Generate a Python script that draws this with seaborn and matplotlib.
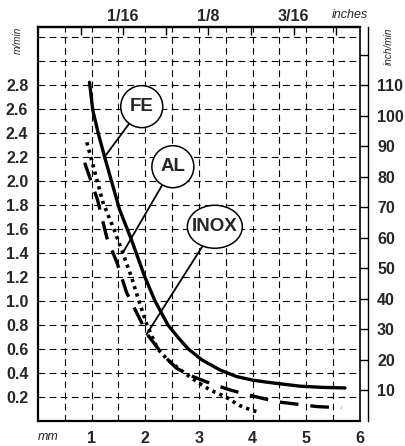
import numpy as np
import pandas as pd
import matplotlib
matplotlib.use("Agg")
import matplotlib.pyplot as plt
from matplotlib.patches import Ellipse
import seaborn as sns

# Wire feed speed vs wire diameter
fe_mm = [0.96, 1.02, 1.12, 1.24, 1.52, 1.74, 1.99, 2.18, 2.42, 2.62, 2.80, 3.05, 3.39, 3.70, 4.00, 4.32, 4.88, 5.30, 5.72]
fe_speed = [2.82, 2.59, 2.40, 2.20, 1.76, 1.51, 1.20, 1.00, 0.80, 0.69, 0.60, 0.51, 0.425, 0.37, 0.34, 0.32, 0.29, 0.28, 0.275]

al_mm = [0.91, 1.06, 1.21, 1.42, 1.58, 1.74, 1.88, 2.03, 2.23, 2.44, 2.73, 2.95, 3.20, 3.50, 3.75, 3.98, 4.10]
al_speed = [2.32, 2.07, 1.82, 1.59, 1.40, 1.20, 1.00, 0.80, 0.60, 0.50, 0.40, 0.33, 0.26, 0.20, 0.13, 0.09, 0.075]

inox_mm = [0.87, 1.11, 1.28, 1.47, 1.65, 1.93, 2.02, 2.33, 2.58, 2.83, 3.23, 3.57, 3.81, 4.17, 4.45, 5.20, 5.65]
inox_speed = [2.15, 1.84, 1.53, 1.32, 1.07, 0.82, 0.73, 0.55, 0.44, 0.38, 0.31, 0.26, 0.23, 0.19, 0.16, 0.12, 0.11]

mm_labels = ["1", "2", "3", "4", "5", "6"]
speed_labels = ["0.2", "0.4", "0.6", "0.8", "1.0", "1.2", "1.4", "1.6", "1.8", "2.0", "2.2", "2.4", "2.6", "2.8"]
inch_min_labels = ["10", "20", "30", "40", "50", "60", "70", "80", "90", "100", "110"]
inch_fracs = ["", "1/16", "", "1/8", "", "3/16", ""]

df = pd.concat([
    pd.DataFrame({"mm": fe_mm, "speed": fe_speed, "metal": "FE"}),
    pd.DataFrame({"mm": al_mm, "speed": al_speed, "metal": "AL"}),
    pd.DataFrame({"mm": inox_mm, "speed": inox_speed, "metal": "INOX"}),
])

sns.set_theme(style="white")
plt.rcParams["font.family"] = ["Liberation Sans", "DejaVu Sans"]

W, H = 406, 446
fig = plt.figure(figsize=(W / 100, H / 100), dpi=100)
ax = fig.add_axes([38 / W, 1 - 421 / H, 322 / W, 394 / H])

ax.set_xlim(0, 6)
ax.set_ylim(0, 3.28)

sns.lineplot(data=df, x="mm", y="speed", hue="metal", style="metal", size="metal",
             palette={"FE": "black", "AL": "black", "INOX": "black"},
             dashes={"FE": "", "AL": (0.9, 1.2), "INOX": (5.6, 3.6)},
             sizes={"FE": 2.4, "AL": 2.6, "INOX": 2.4},
             errorbar=None, legend=False, ax=ax, zorder=3)

# grid every 0.5 mm and every 0.2 m/min
xt = np.arange(0.5, 6.01, 0.5)
ax.set_xticks(xt)
ax.set_xticklabels([mm_labels[int(v) - 1] if v == int(v) else "" for v in xt])
ax.set_yticks(np.arange(0.2, 3.21, 0.2))
ax.set_yticklabels(speed_labels + ["", ""])
ax.grid(True, color="black", linewidth=0.8, linestyle=(0, (6, 4)))
ax.set_axisbelow(True)
ax.tick_params(axis="both", length=0, labelsize=11.5, pad=7)
for lab in ax.get_xticklabels() + ax.get_yticklabels():
    lab.set_fontweight("bold")
ax.set_xlabel("")
ax.set_ylabel("")
for side in ["left", "bottom", "top"]:
    ax.spines[side].set_linewidth(1.6)
    ax.spines[side].set_color("black")
ax.spines["right"].set_linewidth(1.2)
ax.spines["right"].set_color("black")

# inches on top
top = ax.secondary_xaxis("top", functions=(lambda x: x / 25.4, lambda x: x * 25.4))
top.set_xticks([k / 32 for k in range(1, 8)])
top.set_xticklabels(inch_fracs)
top.tick_params(direction="in", length=6, width=1, pad=2, labelsize=11.5, color="black")
for lab in top.get_xticklabels():
    lab.set_fontweight("bold")
top.spines["top"].set_linewidth(1.6)

# inch/min strip on the right
rax = fig.add_axes([360 / W, 1 - 421 / H, 8 / W, 394 / H])
rax.set_ylim(0, 3.28 * 39.37)
rax.set_xticks([])
rax.yaxis.tick_right()
rax.set_yticks(list(range(10, 121, 10)))
rax.set_yticklabels(inch_min_labels + [""])
rax.tick_params(axis="y", direction="in", length=6, width=1, pad=6.5, labelsize=11.5, color="black")
for lab in rax.get_yticklabels():
    lab.set_fontweight("bold")
for side in ["top", "bottom", "left"]:
    rax.spines[side].set_visible(False)
rax.spines["right"].set_linewidth(1.0)
rax.spines["right"].set_color("black")
rax.patch.set_alpha(0)

# unit labels
fig.text(18 / W, 1 - 40 / H, "m/min", rotation=90, ha="center", va="center",
         fontsize=7.2, style="italic")
fig.text(389 / W, 1 - 46 / H, "inch/min", rotation=90, ha="center", va="center",
         fontsize=7.2, style="italic")
fig.text(350 / W, 1 - 15 / H, "inches", ha="center", va="center",
         fontsize=9, style="italic")
fig.text(48 / W, 1 - 437 / H, "mm", ha="center", va="center",
         fontsize=9, style="italic")

# callouts: label, ellipse centre (data), ellipse size (px), point on curve (data)
callouts = [
    ("FE", (1.933, 2.617), (42, 42), (1.243, 2.20)),
    ("AL", (2.513, 2.117), (42, 42), (1.58, 1.40)),
    ("INOX", (3.295, 1.617), (55, 43), (2.02, 0.72)),
]
for text, (cx, cy), (wp, hp), (px, py) in callouts:
    ax.plot([cx, px], [cy, py], color="black", linewidth=1.3, zorder=4)
    ax.add_patch(Ellipse((cx, cy), wp / 53.67, hp / 120.1, facecolor="white",
                         edgecolor="black", linewidth=1.1, zorder=5))
    ax.text(cx, cy, text, ha="center", va="center", fontsize=13.5, fontweight="bold", zorder=6)

fig.savefig("out.png", dpi=100)
